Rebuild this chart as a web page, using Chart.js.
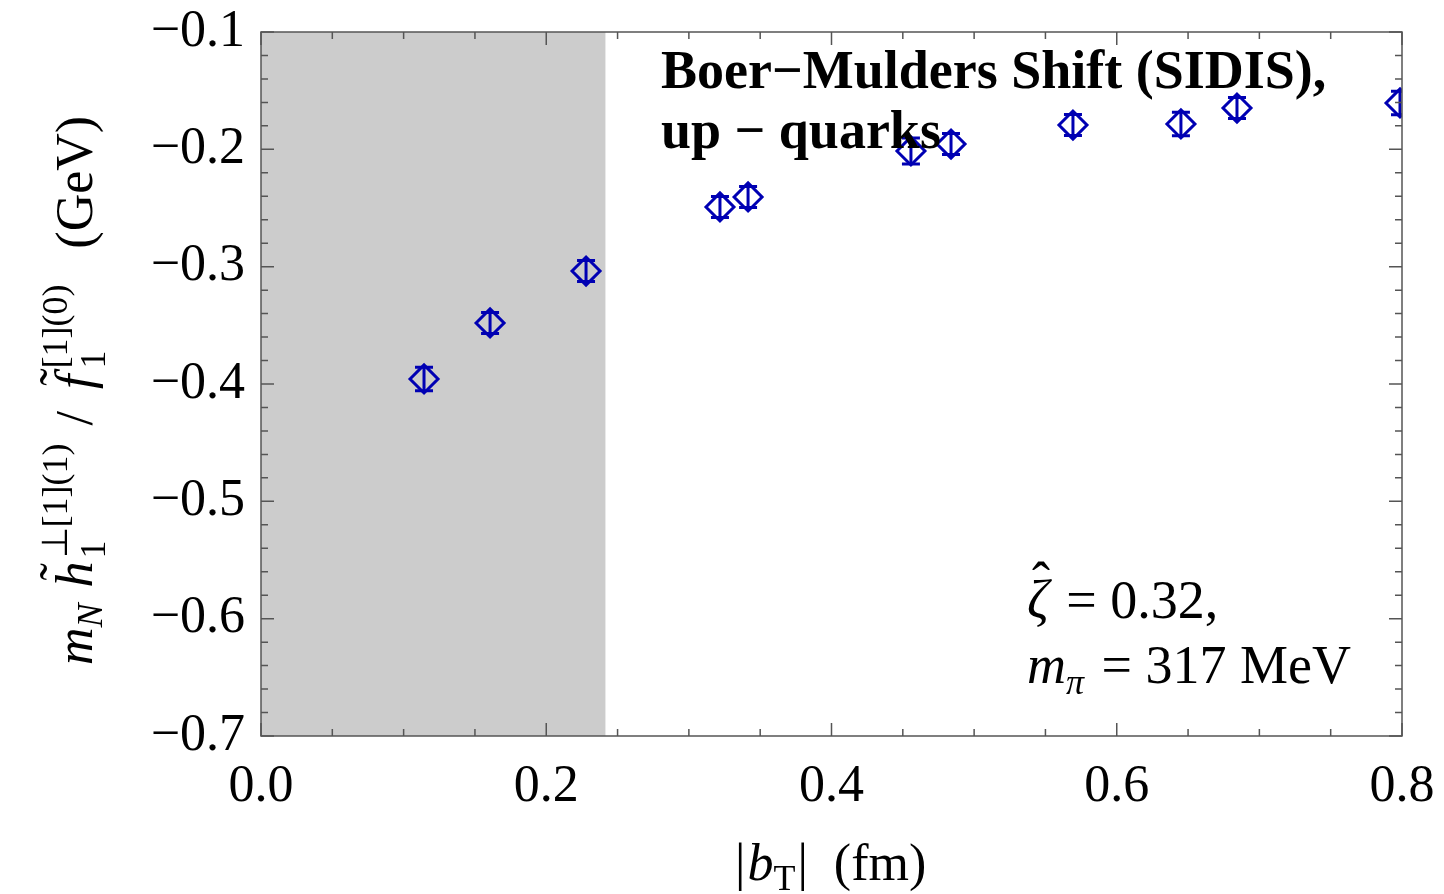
<!DOCTYPE html>
<html>
<head>
<meta charset="utf-8">
<script src="https://cdn.jsdelivr.net/npm/chart.js@4.4.0/dist/chart.umd.min.js"></script>
<style>
  html, body { margin: 0; padding: 0; background: #fff; }
  #khung { position: relative; width: 1444px; height: 894px; }
</style>
</head>
<body>
<div id="khung"><canvas id="bieudo"></canvas></div>
<script>
// du lieu doc tu hinh
const bT = [0.1143, 0.1606, 0.2279, 0.3218, 0.3415, 0.4557, 0.4838, 0.5693, 0.6450, 0.6843, 0.7986];
const shiftUp = [-0.3957, -0.3480, -0.3037, -0.2491, -0.2406, -0.2014, -0.1955, -0.1793, -0.1784, -0.1648, -0.1605];
const saiSo = [0.010, 0.009, 0.009, 0.009, 0.009, 0.011, 0.009, 0.009, 0.010, 0.009, 0.010];
const xTicks = [0, 0.2, 0.4, 0.6, 0.8];
const yTicks = [-0.7, -0.6, -0.5, -0.4, -0.3, -0.2, -0.1];
const vungXam = [0, 0.2415];

const mau = "#0000b3";
const SERIF = '"Liberation Serif", "Times New Roman", serif';

function veChu(ctx, t, x, y, font) {
  ctx.font = font;
  ctx.fillText(t, x, y);
  return ctx.measureText(t).width;
}

function veNhanY(ctx) {
  const to = "italic 52px " + SERIF, nho = "italic 36px " + SERIF, nhoThang = "36px " + SERIF, thang = "52px " + SERIF;
  ctx.save();
  ctx.translate(92, 665);
  ctx.rotate(-Math.PI / 2);
  ctx.fillStyle = "#000";
  ctx.textBaseline = "alphabetic";
  let cx = 0;
  cx += veChu(ctx, "m", cx, 0, to);
  cx += veChu(ctx, "N", cx, 10, nho) + 16;
  // h tilde
  let w = veChu(ctx, "h", cx, 0, to);
  ctx.font = thang;
  ctx.fillText("\u02DC", cx + w / 2 - 6, -16);
  cx += w + 3;
  let wSub = veChu(ctx, "1", cx, 13, nhoThang);
  let wSup = veChu(ctx, "\u22A5[1](1)", cx, -25, nhoThang);
  cx += Math.max(wSub, wSup) + 18;
  cx += veChu(ctx, "/", cx, 0, thang) + 22;
  w = veChu(ctx, "f", cx, 0, to);
  ctx.font = thang;
  ctx.fillText("\u02DC", cx + w / 2 - 4, -16);
  cx += w + 6;
  wSub = veChu(ctx, "1", cx, 13, nhoThang);
  wSup = veChu(ctx, "[1](0)", cx, -25, nhoThang);
  cx += Math.max(wSub, wSup) + 36;
  veChu(ctx, "(GeV)", cx, 0, thang);
  ctx.restore();
}

function veNhanX(ctx) {
  const to = "italic 52px " + SERIF, thang = "52px " + SERIF, nho = "36px " + SERIF;
  ctx.save();
  ctx.fillStyle = "#000";
  let cx = 735, by = 880;
  cx += veChu(ctx, "|", cx, by, thang) + 2;
  cx += veChu(ctx, "b", cx, by, to);
  cx += veChu(ctx, "T", cx, by + 10, nho) + 2;
  cx += veChu(ctx, "|", cx, by, thang) + 26;
  veChu(ctx, "(fm)", cx, by, thang);
  ctx.restore();
}

function veChuThich(ctx) {
  const to = "italic 54px " + SERIF, thang = "54px " + SERIF, nho = "italic 36px " + SERIF;
  ctx.save();
  ctx.fillStyle = "#000";
  let cx = 1027, by = 618;
  let w = veChu(ctx, "\u03B6", cx, by, to);
  ctx.font = thang;
  ctx.fillText("\u02C6", cx + w / 2 - 6, by - 18);
  veChu(ctx, " = 0.32,", cx + w + 4, by, thang);
  by = 683;
  cx = 1027;
  cx += veChu(ctx, "m", cx, by, to);
  cx += veChu(ctx, "\u03C0", cx, by + 11, nho) + 4;
  veChu(ctx, " = 317 MeV", cx, by, thang);
  // tieu de
  ctx.font = "bold 54px " + SERIF;
  ctx.fillText("Boer\u2212Mulders Shift (SIDIS),", 661, 88);
  ctx.fillText("up \u2212 quarks", 661, 148);
  ctx.restore();
}

const veThem = {
  id: "veThem",
  beforeDatasetsDraw(chart) {
    const { ctx, chartArea: a, scales: { x, y } } = chart;
    ctx.save();
    // vung xam
    const x0 = x.getPixelForValue(vungXam[0]), x1 = x.getPixelForValue(vungXam[1]);
    ctx.fillStyle = "#cccccc";
    ctx.fillRect(x0, a.top, x1 - x0, a.bottom - a.top);
    // thanh sai so
    ctx.beginPath();
    ctx.rect(a.left, a.top, a.right - a.left, a.bottom - a.top);
    ctx.clip();
    ctx.strokeStyle = mau;
    ctx.lineWidth = 3;
    ctx.beginPath();
    for (let i = 0; i < bT.length; i++) {
      const px = x.getPixelForValue(bT[i]);
      const tren = y.getPixelForValue(shiftUp[i] + saiSo[i]);
      const duoi = y.getPixelForValue(shiftUp[i] - saiSo[i]);
      ctx.moveTo(px, tren); ctx.lineTo(px, duoi);
      ctx.moveTo(px - 9, tren); ctx.lineTo(px + 9, tren);
      ctx.moveTo(px - 9, duoi); ctx.lineTo(px + 9, duoi);
    }
    ctx.stroke();
    ctx.restore();
  },
  afterDraw(chart) {
    const { ctx, chartArea: a, scales: { x, y } } = chart;
    ctx.save();
    ctx.strokeStyle = "#555";
    ctx.lineWidth = 1.5;
    ctx.strokeRect(a.left, a.top, a.right - a.left, a.bottom - a.top);
    ctx.beginPath();
    // vach x: chinh 0.2, phu 0.05
    for (let k = 0; k <= 16; k++) {
      const px = x.getPixelForValue(k * 0.05);
      const dai = k % 4 === 0 ? 13 : 7;
      ctx.moveTo(px, a.bottom); ctx.lineTo(px, a.bottom - dai);
      ctx.moveTo(px, a.top); ctx.lineTo(px, a.top + dai);
    }
    // vach y: chinh 0.1, phu 0.02
    for (let k = 0; k <= 30; k++) {
      const py = y.getPixelForValue(-0.7 + k * 0.02);
      const dai = k % 5 === 0 ? 13 : 7;
      ctx.moveTo(a.left, py); ctx.lineTo(a.left + dai, py);
      ctx.moveTo(a.right, py); ctx.lineTo(a.right - dai, py);
    }
    ctx.stroke();
    ctx.restore();
    veNhanY(ctx);
    veNhanX(ctx);
    veChuThich(ctx);
  }
};

const fmt = v => (v < 0 ? "\u2212" : "") + Math.abs(v).toFixed(1);
const boPadding = s => { s.paddingTop = 0; s.paddingBottom = 0; s.paddingLeft = 0; s.paddingRight = 0; };

const ctx = document.getElementById("bieudo").getContext("2d");
new Chart(ctx, {
  type: "scatter",
  data: {
    datasets: [{
      label: "up quarks",
      data: bT.map((v, i) => ({ x: v, y: shiftUp[i] })),
      pointStyle: "rectRot",
      pointRadius: 14,
      pointHoverRadius: 14,
      borderColor: mau,
      backgroundColor: "rgba(0,0,0,0)",
      borderWidth: 3,
      clip: 0
    }]
  },
  options: {
    responsive: true,
    maintainAspectRatio: false,
    animation: false,
    events: [],
    layout: { padding: { top: 32, right: 42, left: 0, bottom: 0 } },
    plugins: { legend: { display: false }, tooltip: { enabled: false } },
    scales: {
      x: {
        type: "linear",
        min: 0,
        max: 0.8,
        afterBuildTicks: s => { s.ticks = xTicks.map(v => ({ value: v })); },
        afterFit: s => { s.height = 158; boPadding(s); },
        grid: { display: false, drawTicks: false },
        border: { display: false },
        ticks: {
          padding: 20,
          color: "#000",
          font: { family: SERIF, size: 52 },
          maxRotation: 0,
          callback: v => fmt(v)
        }
      },
      y: {
        type: "linear",
        min: -0.7,
        max: -0.1,
        afterBuildTicks: s => { s.ticks = yTicks.map(v => ({ value: v })); },
        afterFit: s => { s.width = 261; boPadding(s); },
        grid: { display: false, drawTicks: false },
        border: { display: false },
        ticks: {
          padding: 16,
          color: "#000",
          font: { family: SERIF, size: 52 },
          callback: v => fmt(v)
        }
      }
    }
  },
  plugins: [veThem]
});
</script>
</body>
</html>
